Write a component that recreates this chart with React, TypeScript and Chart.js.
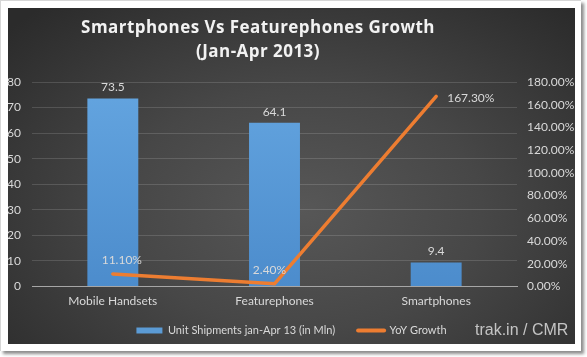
import React, { useEffect, useRef } from "react";
import { Chart, registerables } from "chart.js";

Chart.register(...registerables);

const titleLines = ["Smartphones Vs Featurephones Growth", "(Jan-Apr 2013)"];
const categories = ["Mobile Handsets", "Featurephones", "Smartphones"];
const unitShipments = [73.5, 64.1, 9.4];
const yoyGrowth = [11.1, 2.4, 167.3];
const seriesNames = ["Unit Shipments jan-Apr 13 (in Mln)", "YoY Growth"];
const sourceText = "trak.in / CMR";

const BAR_COLOR = "#5b9bd5";
const LINE_COLOR = "#ed7d31";
const TEXT_COLOR = "#d9d9d9";
const FONT = "Lato";

const valueLabels = {
  id: "valueLabels",
  afterDatasetsDraw(chart: any) {
    const ctx = chart.ctx;
    ctx.save();
    ctx.font = `12px ${FONT}`;
    ctx.fillStyle = TEXT_COLOR;
    ctx.textBaseline = "middle";
    const bars = chart.getDatasetMeta(0).data;
    bars.forEach((el: any, i: number) => {
      ctx.textAlign = "center";
      ctx.fillText(String(unitShipments[i]), el.x, el.y - 11);
    });
    const pts = chart.getDatasetMeta(1).data;
    pts.forEach((el: any, i: number) => {
      const txt = yoyGrowth[i].toFixed(2) + "%";
      if (i === pts.length - 1) {
        ctx.textAlign = "left";
        ctx.fillText(txt, el.x + 11, el.y + 2);
      } else {
        ctx.textAlign = "center";
        ctx.fillText(txt, el.x + (i === 0 ? 9 : -5), el.y - 14);
      }
    });
    ctx.restore();
  },
};

// move the legend up so it sits closer to the category labels
const legendShift = {
  id: "legendShift",
  afterLayout(chart: any) {
    const lg = chart.legend;
    if (lg) {
      lg.top -= 6.5;
      lg.bottom = chart.height;
    }
  },
};

export default function App() {
  const ref = useRef<HTMLCanvasElement>(null);

  useEffect(() => {
    if (!ref.current) return;
    const chart = new Chart(ref.current, {
      type: "bar",
      data: {
        labels: categories,
        datasets: [
          {
            type: "bar",
            label: seriesNames[0],
            data: unitShipments,
            yAxisID: "y",
            order: 1,
            backgroundColor: (c: any) => {
              const area = c.chart.chartArea;
              if (!area) return BAR_COLOR;
              const g = c.chart.ctx.createLinearGradient(0, area.top, 0, area.bottom);
              g.addColorStop(0, "#64a5e0");
              g.addColorStop(1, "#4c8ccc");
              return g;
            },
            barPercentage: 1,
            categoryPercentage: 0.315,
          },
          {
            type: "line",
            label: seriesNames[1],
            data: yoyGrowth,
            yAxisID: "y1",
            order: 0,
            borderColor: LINE_COLOR,
            borderWidth: 3.5,
            pointRadius: 0,
            borderJoinStyle: "round",
            borderCapStyle: "round",
            tension: 0,
          } as any,
        ],
      },
      options: {
        animation: false,
        responsive: false,
        maintainAspectRatio: false,
        layout: { padding: { top: 74, bottom: 0, left: 0, right: 0 } },
        plugins: {
          tooltip: { enabled: false },
          title: { display: false },
          legend: {
            position: "bottom",
            maxHeight: 35.5,
            labels: {
              color: TEXT_COLOR,
              font: { family: FONT, size: 11 },
              usePointStyle: true,
              pointStyleWidth: 26,
              boxHeight: 6,
              padding: 23,
              generateLabels: () => [
                {
                  text: seriesNames[0],
                  fillStyle: BAR_COLOR,
                  strokeStyle: BAR_COLOR,
                  lineWidth: 0,
                  pointStyle: "rect",
                  fontColor: TEXT_COLOR,
                  datasetIndex: 0,
                } as any,
                {
                  text: seriesNames[1],
                  fillStyle: LINE_COLOR,
                  strokeStyle: LINE_COLOR,
                  lineWidth: 4,
                  lineCap: "round",
                  pointStyle: "line",
                  fontColor: TEXT_COLOR,
                  datasetIndex: 1,
                } as any,
              ],
            },
          },
        },
        scales: {
          x: {
            grid: { display: false, drawTicks: false },
            border: { display: true, color: "#a6a6a6", width: 1 },
            ticks: { color: TEXT_COLOR, font: { family: FONT, size: 12 }, padding: 7.5 },
            afterFit: (s: any) => { s.height = 22; },
          },
          y: {
            position: "left",
            min: 0,
            max: 80,
            ticks: { stepSize: 10, color: TEXT_COLOR, font: { family: FONT, size: 12 }, padding: 11 },
            grid: {
              drawTicks: false,
              color: (c: any) => (c.tick && c.tick.value === 0 ? "rgba(0,0,0,0)" : "rgba(255,255,255,0.14)"),
            },
            border: { display: false },
            afterFit: (s: any) => { s.width = 24; },
          },
          y1: {
            position: "right",
            min: 0,
            max: 180,
            ticks: {
              stepSize: 20,
              color: TEXT_COLOR,
              font: { family: FONT, size: 12 },
              padding: 10,
              callback: (v: any) => Number(v).toFixed(2) + "%",
            },
            grid: { display: false, drawTicks: false },
            border: { display: false },
            afterFit: (s: any) => { s.width = 58; },
          },
        },
      },
      plugins: [valueLabels, legendShift],
    });
    return () => chart.destroy();
  }, []);

  return (
    <div style={{ position: "fixed", left: 0, top: 0, width: 587, height: 357, background: "#ffffff" }}>
      <div
        style={{
          position: "absolute",
          left: 0,
          top: 0,
          width: 581,
          height: 351,
          background: "#ffffff",
          borderLeft: "1px solid #d6d6d6",
          borderTop: "1px solid #d6d6d6",
          boxSizing: "border-box",
          boxShadow: "3px 3px 3px rgba(0,0,0,0.45)",
        }}
      />
      <div
        style={{
          position: "absolute",
          left: 8,
          top: 8,
          width: 567,
          height: 336,
          background:
            "radial-gradient(ellipse 70% 80% at 52% 60%, #575757 0%, #474747 45%, #2b2b2b 100%)",
        }}
      >
        <canvas ref={ref} width={567} height={336} style={{ position: "absolute", left: 0, top: 0, width: 567, height: 336 }} />
        <div
          style={{
            position: "absolute",
            left: 0,
            top: 7,
            width: 500,
            textAlign: "center",
            color: "#f2f2f2",
            fontFamily: "'Open Sans', sans-serif",
            fontWeight: 700,
            fontSize: 17,
            lineHeight: "24px",
            letterSpacing: 0.45,
          }}
        >
          <div>{titleLines[0]}</div>
          <div>{titleLines[1]}</div>
        </div>
        <div
          style={{
            position: "absolute",
            left: 467,
            top: 312,
            color: "#c4c4c4",
            fontFamily: "'Liberation Sans', Arial, sans-serif",
            fontSize: 16,
            lineHeight: "20px",
            whiteSpace: "nowrap",
          }}
        >
          {sourceText}
        </div>
      </div>
    </div>
  );
}
